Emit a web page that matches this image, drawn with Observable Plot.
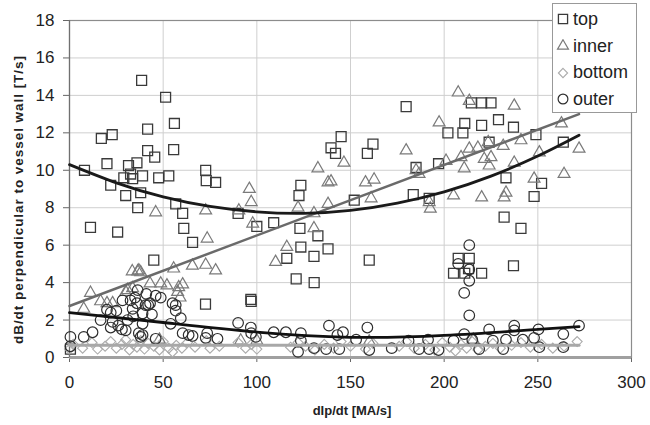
<!DOCTYPE html>
<html><head><meta charset="utf-8">
<script src="https://cdn.jsdelivr.net/npm/d3@7"></script>
<script src="https://cdn.jsdelivr.net/npm/@observablehq/plot@0.6"></script>
<style>
body{margin:0;background:#fff;font-family:"Liberation Sans",Arial,sans-serif;}
#wrap{position:relative;width:650px;height:425px;overflow:hidden;}
#legend{position:absolute;left:552px;top:3px;width:85px;height:110px;border:1px solid #999;background:#fff;box-sizing:border-box;padding-top:2px;}
.row{display:flex;align-items:center;height:26.7px;font-size:18px;color:#222;}
.row svg{margin-left:3px;margin-right:3px;}
</style></head>
<body><div id="wrap"><div id="chart"></div><div id="legend"></div></div>
<script>
const seriesNames = ["top","inner","bottom","outer"];
const xTicks = [0,50,100,150,200,250,300];
const yTicks = [0,2,4,6,8,10,12,14,16,18];

const topPts = [[0.5,0.45],[8,10.0],[17,11.7],[22.8,11.9],[20,10.35],[11.2,6.95],[25.7,6.7],[38.5,14.8],[51.3,13.9],[56,12.5],[41.7,12.2],[41.7,11.05],[45.5,10.7],[55.6,11.1],[31.5,10.25],[36,10.4],[32.6,9.8],[39,9.7],[47.6,9.6],[53,9.7],[29,9.6],[22,9.2],[33.7,9.55],[30,8.65],[38,8.8],[36.4,8.0],[56.7,8.2],[60.4,7.7],[61,6.9],[65.7,6.15],[45,5.2],[72.6,2.85],[72.7,10.0],[73,9.45],[78,9.35],[96.8,3.1],[97,3.0],[90,7.7],[109,7.2],[100,7.0],[122.5,8.65],[123.5,9.2],[123,6.9],[132.6,6.5],[116,5.3],[121,4.2],[123.5,5.9],[130.5,5.4],[130.6,4.0],[138,5.8],[139.6,11.2],[142,10.9],[145,11.8],[152,8.4],[159,10.9],[162,11.4],[160,5.2],[179.7,13.4],[183.5,8.7],[192,8.5],[185,10.15],[197,10.35],[202,12.0],[210,12.0],[211,12.5],[220,12.4],[229,12.7],[237,12.3],[214.5,13.6],[220,13.6],[225,13.6],[224,11.5],[249,11.9],[263.6,11.5],[233,9.6],[252,9.3],[248,8.6],[232,7.5],[241,6.9],[237,4.9],[220,4.5],[207.5,5.3],[213.4,5.3],[205,4.5],[211,4.5],[213,4.75]];

const innerPts = [[7.6,2.6],[11.2,3.45],[16.6,3.0],[20,2.9],[23,2.9],[30,3.5],[31,3.6],[33.7,3.7],[33.5,4.6],[36.4,4.6],[38,4.55],[37,4.65],[43,3.95],[48.7,3.95],[52,3.85],[55.6,4.75],[57.7,3.5],[58.3,3.75],[59,3.2],[60.4,3.9],[65.6,4.9],[72.7,4.95],[78,4.65],[73.5,6.35],[46,7.75],[72.7,7.85],[90.4,7.85],[91.4,0.9],[96,9.0],[97,8.3],[97.8,7.15],[110,5.1],[116,5.9],[122,8.0],[130.5,7.7],[130.5,6.9],[132.6,10.1],[138,8.2],[138,9.35],[139.6,9.4],[146.5,10.4],[158,9.35],[161,8.5],[162.6,9.5],[179.7,11.06],[185,10.0],[186.6,9.8],[192,8.3],[192.6,7.95],[197.3,12.55],[201,10.5],[205,8.65],[207.5,14.15],[209,10.7],[210.7,10.1],[213.4,13.7],[213.4,11.15],[218,11.2],[220,8.55],[221.4,10.6],[223.5,11.5],[224,10.25],[225,10.7],[231.5,11.3],[232,8.55],[233,8.8],[237.4,13.45],[237.4,10.4],[241,11.6],[248,9.55],[250.8,10.95],[262.6,12.5],[264,9.8],[272,11.15],[215.5,0.95],[100,0.9],[160,0.85],[48,0.95]];

const bottomPts = [[0,0.45],[2,0.7],[7,0.5],[12,0.8],[15,0.45],[19,0.6],[22,0.85],[25,0.5],[28,0.7],[30,0.95],[32,0.4],[34,0.7],[36,0.55],[38,0.9],[40,0.45],[42,0.75],[45,0.6],[48,0.4],[50,0.85],[53,0.5],[55,0.3],[57,0.65],[60,0.5],[63,0.8],[67,0.55],[73,0.9],[75,0.5],[80,0.6],[90,0.8],[94,0.5],[97,0.7],[100,0.45],[118,0.55],[122,0.8],[126,0.6],[131,0.4],[136,0.7],[141,0.5],[145,0.85],[150,0.6],[158,0.45],[162,0.75],[176,0.6],[180,0.85],[184,0.5],[190,0.7],[195,0.4],[199,0.8],[203,0.55],[206,0.35],[209,0.7],[212,0.5],[215,0.85],[218,0.4],[222,0.6],[226,0.75],[230,0.5],[236,0.65],[241,0.8],[246,0.55],[252,0.7],[258,0.5],[264,0.6],[271,0.85]];

const outerPts = [[0.5,1.1],[0.5,0.6],[7.6,1.1],[12.3,1.35],[16.6,2.0],[20,2.55],[22,2.4],[23,1.9],[22,1.6],[26,1.7],[25,2.5],[28,1.5],[28.3,3.05],[30,1.45],[31,2.0],[32.6,3.05],[33.7,2.6],[34,2.2],[35,3.2],[36,2.9],[36.4,3.6],[37,1.3],[38,1.1],[39,2.35],[39,1.8],[39,1.2],[40.6,2.8],[41,3.4],[42,2.8],[43,2.9],[44,2.3],[46,3.3],[46,1.0],[48.7,3.2],[55,2.9],[56.7,2.8],[56.7,2.5],[59.4,2.1],[54,1.8],[60.4,1.3],[63.6,1.2],[65.7,1.15],[72.7,1.05],[73.5,1.3],[79,1.0],[90,1.85],[96.8,1.6],[97,1.3],[99.5,1.1],[109,1.35],[115.5,1.35],[123.5,1.3],[123.5,0.9],[122,0.3],[130.5,0.5],[138.5,1.7],[143,1.2],[137,0.45],[144,0.45],[146,1.35],[153,0.95],[159,1.6],[160,0.4],[172,0.5],[181,0.9],[186.6,0.45],[191.4,0.95],[192,0.45],[197,0.4],[205,0.9],[210.7,1.25],[213.4,6.0],[213.4,4.7],[213.4,4.1],[210.7,3.45],[213.4,2.25],[207.5,5.0],[215,0.95],[218.7,0.45],[224,1.5],[226,0.9],[231.5,0.45],[233,0.95],[237.4,1.7],[237.4,1.45],[242,0.95],[248,1.05],[250.3,1.5],[250.8,0.55],[263.6,1.25],[263.6,0.55],[272,1.7]];

// trend lines
const trendTop = [[0,10.3],[25,9.33],[50,8.58],[75,8.07],[100,7.78],[125,7.7],[150,7.86],[175,8.25],[200,8.85],[225,9.69],[250,10.76],[272,11.87]];
const trendInner = [[0,2.75],[272,13.0]];
const trendBottom = [[0,0.65],[272,0.65]];
const trendOuter = [[0,2.4],[50,1.87],[100,1.36],[150,1.08],[200,1.18],[250,1.5],[272,1.65]];

const rows = pts => pts.map(([x,y]) => ({x,y}));
const styles = {
  top:   {symbol:"square",   r:5.6, stroke:"#3a3a3a", strokeWidth:1.3},
  inner: {symbol:"triangle", r:4.4, stroke:"#7a7a7a", strokeWidth:1.2},
  bottom:{symbol:"diamond2", r:4.5, stroke:"#ababab", strokeWidth:1.1},
  outer: {symbol:"circle",   r:5.3, stroke:"#2e2e2e", strokeWidth:1.2}
};

const chart = Plot.plot({
  width:650, height:425,
  marginLeft:69, marginRight:19, marginTop:20, marginBottom:68,
  x:{domain:[0,300]},
  y:{domain:[0,18]},
  style:{fontFamily:"'Liberation Sans', Arial, sans-serif", fontSize:"17px", color:"#222", background:"#fff", overflow:"visible"},
  marks:[
    Plot.gridX(xTicks.slice(1,-1), {stroke:"#cfcfcf", strokeOpacity:1}),
    Plot.gridY(yTicks.slice(1,-1), {stroke:"#cfcfcf", strokeOpacity:1}),
    Plot.axisX(xTicks, {tickSize:5, tickPadding:13, label:null, stroke:"#666"}),
    Plot.axisY(yTicks, {tickSize:6, tickPadding:9, label:null, stroke:"#666"}),
    Plot.frame({stroke:"#8c8c8c", strokeWidth:1.2}),
    Plot.ruleY([0], {stroke:"#a0a0a0", strokeWidth:3}),
    Plot.ruleX([0], {stroke:"#707070", strokeWidth:1.2}),
    Plot.dot(rows(topPts), {x:"x", y:"y", fill:"none", ...styles.top}),
    Plot.dot(rows(innerPts), {x:"x", y:"y", fill:"none", ...styles.inner}),
    Plot.dot(rows(bottomPts), {x:"x", y:"y", fill:"none", ...styles.bottom}),
    Plot.dot(rows(outerPts), {x:"x", y:"y", fill:"none", ...styles.outer}),
    Plot.line(rows(trendBottom), {x:"x", y:"y", stroke:"#a8a8a8", strokeWidth:3}),
    Plot.line(rows(trendInner), {x:"x", y:"y", stroke:"#6a6a6a", strokeWidth:2.5}),
    Plot.line(rows(trendTop), {x:"x", y:"y", stroke:"#1a1a1a", strokeWidth:2.8, curve:"natural"}),
    Plot.line(rows(trendOuter), {x:"x", y:"y", stroke:"#111", strokeWidth:2.8, curve:"natural"})
  ]
});
document.getElementById("chart").appendChild(chart);

const svg = d3.select(chart);
svg.append("text").attr("x", 352).attr("y", 415).attr("text-anchor","middle")
  .attr("font-weight","bold").attr("font-size",13).attr("fill","#222").text("dIp/dt [MA/s]");
svg.append("text").attr("transform","translate(23,200) rotate(-90)").attr("text-anchor","middle")
  .attr("font-weight","bold").attr("font-size",13.5).attr("fill","#222")
  .attr("textLength", 288).attr("lengthAdjust","spacing")
  .text("dB/dt perpendicular to vessel wall [T/s]");

// legend
const legend = d3.select("#legend");
const symMap = {square:d3.symbolSquare, triangle:d3.symbolTriangle, diamond2:d3.symbolDiamond2, circle:d3.symbolCircle};
for (const name of seriesNames) {
  const st = styles[name];
  const row = legend.append("div").attr("class","row");
  const s = row.append("svg").attr("width",14).attr("height",14);
  s.append("path").attr("transform","translate(7,7)")
    .attr("d", d3.symbol(symMap[st.symbol], st.r*st.r*Math.PI*0.85)())
    .attr("fill","none").attr("stroke", st.stroke).attr("stroke-width", st.strokeWidth);
  row.append("span").text(name);
}
</script>
</body></html>
